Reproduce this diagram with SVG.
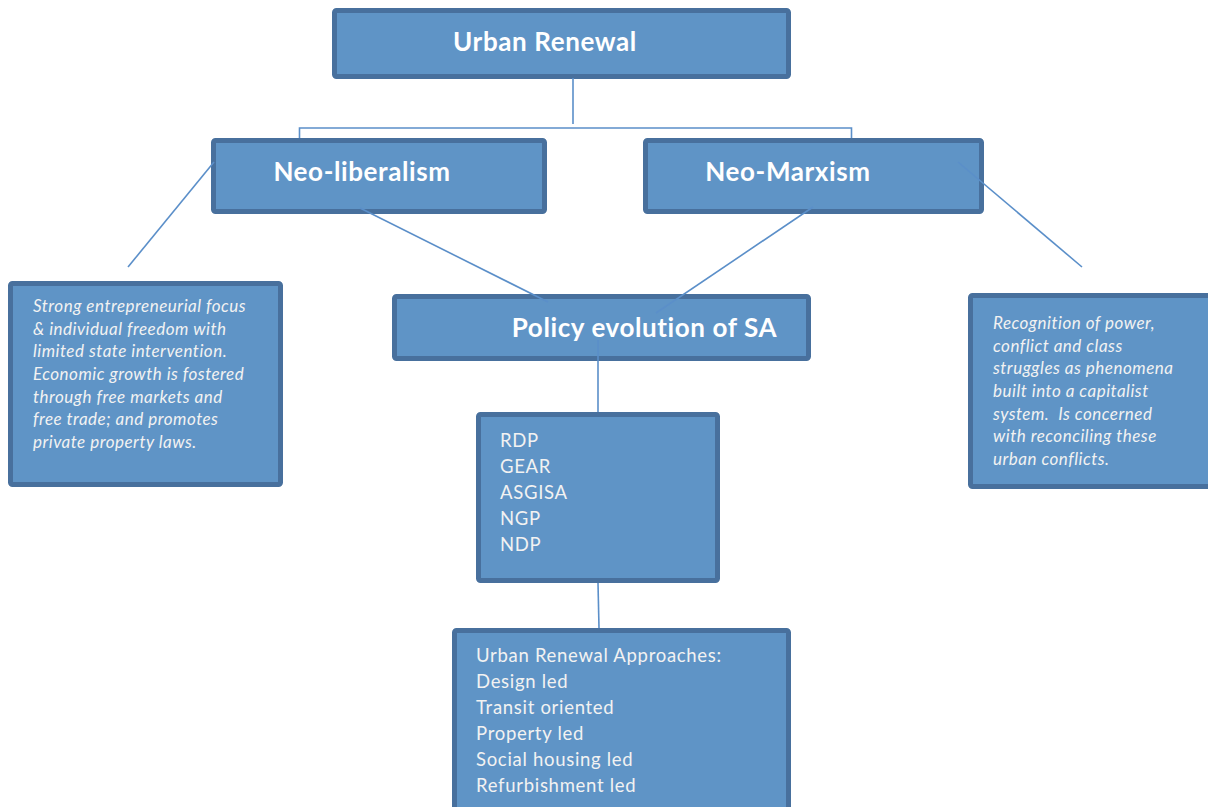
<svg xmlns="http://www.w3.org/2000/svg" width="1208" height="807" viewBox="0 0 1208 807">
<style>
.box{fill:#5f94c6;stroke:#48709d;stroke-width:5}
.ln{fill:none;stroke:#5b8fc9;stroke-width:1.6}
.ttl{font-family:Lato,"Open Sans",sans-serif;font-weight:bold;font-size:26px;letter-spacing:0.6px;fill:#ffffff}
.it{font-family:Lato,"Open Sans",sans-serif;font-style:italic;font-size:17px;letter-spacing:0.5px;fill:#f2f2f2}
.pl{font-family:Lato,"Open Sans",sans-serif;font-size:18.5px;letter-spacing:0.7px;fill:#f2f2f2}
</style>
<rect width="1208" height="807" fill="#ffffff"/>
<g id="urban-renewal">
<rect class="box" x="334.5" y="10.5" width="454" height="66" rx="2"/>
<text class="ttl" x="545" y="51" text-anchor="middle">Urban Renewal</text>
</g>
<g id="neo-liberalism">
<rect class="box" x="213.5" y="140.5" width="331" height="71" rx="2"/>
<text class="ttl" x="362" y="181" text-anchor="middle">Neo-liberalism</text>
</g>
<g id="neo-marxism">
<rect class="box" x="645.5" y="140.5" width="336" height="71" rx="2"/>
<text class="ttl" x="788" y="181" text-anchor="middle">Neo-Marxism</text>
</g>
<g id="neo-liberalism-note">
<rect class="box" x="10.5" y="283.5" width="270" height="201" rx="2"/>
<text class="it" x="33" y="312">Strong entrepreneurial focus</text>
<text class="it" x="33" y="335">&amp; individual freedom with</text>
<text class="it" x="33" y="357">limited state intervention.</text>
<text class="it" x="33" y="380">Economic growth is fostered</text>
<text class="it" x="33" y="403">through free markets and</text>
<text class="it" x="33" y="425">free trade; and promotes</text>
<text class="it" x="33" y="448">private property laws.</text>
</g>
<g id="neo-marxism-note">
<rect class="box" x="970.5" y="295.5" width="250" height="191" rx="2"/>
<text class="it" x="993" y="329">Recognition of power,</text>
<text class="it" x="993" y="352">conflict and class</text>
<text class="it" x="993" y="374">struggles as phenomena</text>
<text class="it" x="993" y="397">built into a capitalist</text>
<text class="it" x="993" y="420" xml:space="preserve">system.  Is concerned</text>
<text class="it" x="993" y="442">with reconciling these</text>
<text class="it" x="993" y="465">urban conflicts.</text>
</g>
<g id="policy-evolution">
<rect class="box" x="394.5" y="296.5" width="414" height="62" rx="2"/>
<text class="ttl" x="644.5" y="337" text-anchor="middle">Policy evolution of SA</text>
</g>
<g id="policies">
<rect class="box" x="478.5" y="414.5" width="239" height="166" rx="2"/>
<text class="pl" x="500" y="447">RDP</text>
<text class="pl" x="500" y="473">GEAR</text>
<text class="pl" x="500" y="499">ASGISA</text>
<text class="pl" x="500" y="525">NGP</text>
<text class="pl" x="500" y="551">NDP</text>
</g>
<g id="approaches">
<rect class="box" x="454.5" y="630.5" width="334" height="200" rx="2"/>
<text class="pl" x="476" y="662">Urban Renewal Approaches:</text>
<text class="pl" x="476" y="688">Design led</text>
<text class="pl" x="476" y="714">Transit oriented</text>
<text class="pl" x="476" y="740">Property led</text>
<text class="pl" x="476" y="766">Social housing led</text>
<text class="pl" x="476" y="792">Refurbishment led</text>
</g>
<g id="connectors">
<path class="ln" d="M573 78 V124"/>
<path class="ln" d="M299.5 138 V128 H851.5 V138"/>
<path class="ln" d="M214 162 L128 267"/>
<path class="ln" d="M958 162 L1082 267"/>
<path class="ln" d="M360 208 L548 302"/>
<path class="ln" d="M813 207 L656 313"/>
<path class="ln" d="M598 340 V412"/>
<path class="ln" d="M598 583 L599 628"/>
</g>
</svg>
